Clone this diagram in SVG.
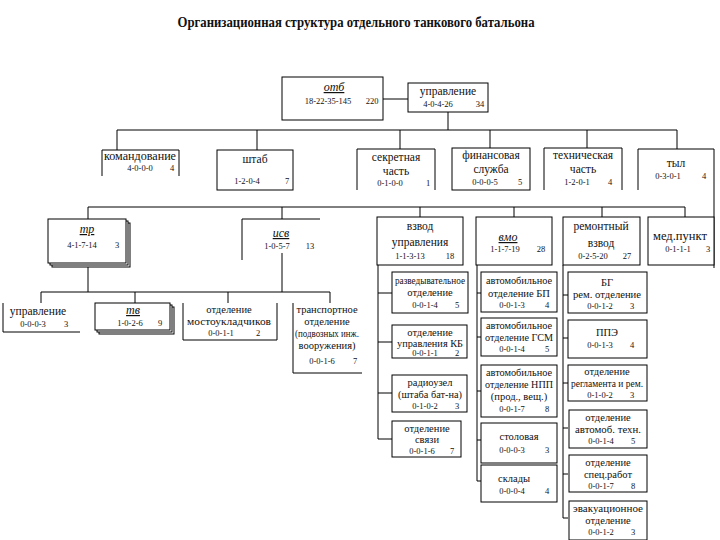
<svg xmlns="http://www.w3.org/2000/svg" width="720" height="540" viewBox="0 0 720 540">
<style>
.bx{fill:#fff;stroke:#000;stroke-width:1}
.op{fill:none;stroke:#000;stroke-width:1}
.ln{fill:none;stroke:#000;stroke-width:1}
text{font-family:"Liberation Serif","Times New Roman",serif;fill:#111}
.t{font-size:11.5px;text-anchor:middle}
.s{font-size:10.5px;text-anchor:middle}
.n{font-size:8.5px;text-anchor:middle}
.i{font-style:italic;text-decoration:underline;font-size:12px;text-anchor:middle}
.h{font-size:14px;font-weight:bold;text-anchor:middle}
</style>
<rect width="720" height="540" fill="#fff"/>
<text class="h" x="356" y="27" textLength="357" lengthAdjust="spacingAndGlyphs">Организационная структура отдельного танкового батальона</text>

<g id="connectors">
<path class="ln" d="M383 99H408M448 112V130M117 130H677M117 130V150M257 130V150M400 130V149M490 130V148M587 130V148M677 130V149"/>
<path class="ln" d="M88 207H685M88 207V219M282 207V219M420 207V217M514 207V217M602 207V217M685 207V217"/>
<path class="ln" d="M88 266V292M282 253V292M41 292H330M41 292V303M135 292V303M228 292V303M330 292V303"/>
<path class="ln" d="M378 265V439M378 293H392M378 342H392M378 393H392M378 439H392"/>
<path class="ln" d="M477 265V481M477 293H481M477 337H481M477 391H481M477 440H481M477 481H481"/>
<path class="ln" d="M563 265V518M563 295H568M563 338H568M563 383H568M563 428H568M563 474H568M563 518H568"/>
<path class="ln" d="M714 149V268"/>
</g>

<g id="otb"><rect class="bx" x="282" y="77" width="101" height="43"/>
<text class="i" x="334" y="91">отб</text><text class="n" x="328" y="104">18-22-35-145</text><text class="n" x="372" y="104">220</text></g>
<g id="upravlenie"><rect class="bx" x="408" y="83" width="80" height="29"/>
<text class="t" x="448" y="95">управление</text><text class="n" x="438" y="107">4-0-4-26</text><text class="n" x="480" y="107">34</text></g>

<g id="komandovanie"><path class="op" d="M102 176V150H179V176"/>
<text class="t" x="140" y="160" textLength="72" lengthAdjust="spacingAndGlyphs">командование</text><text class="n" x="140" y="171">4-0-0-0</text><text class="n" x="172" y="171">4</text></g>
<g id="shtab"><rect class="bx" x="217" y="150" width="76" height="40"/>
<text class="t" x="255" y="163">штаб</text><text class="n" x="247" y="184">1-2-0-4</text><text class="n" x="287" y="184">7</text></g>
<g id="sekretnaya"><path class="op" d="M357 190V149H435V190"/>
<text class="t" x="396" y="161">секретная</text><text class="t" x="396" y="175">часть</text><text class="n" x="390" y="186">0-1-0-0</text><text class="n" x="428" y="186">1</text></g>
<g id="finansovaya"><rect class="bx" x="452" y="148" width="78" height="42"/>
<text class="t" x="491" y="159">финансовая</text><text class="t" x="491" y="173">служба</text><text class="n" x="485" y="185">0-0-0-5</text><text class="n" x="520" y="185">5</text></g>
<g id="tehnicheskaya"><path class="op" d="M544 190V148H622V190"/>
<text class="t" x="583" y="159">техническая</text><text class="t" x="583" y="173">часть</text><text class="n" x="577" y="185">1-2-0-1</text><text class="n" x="610" y="185">4</text></g>
<g id="tyl"><path class="op" d="M638 190V149H714"/>
<text class="t" x="676" y="167">тыл</text><text class="n" x="668" y="179">0-3-0-1</text><text class="n" x="704" y="179">4</text></g>

<g id="tr"><rect class="bx" x="52" y="223" width="78" height="44"/><rect class="bx" x="50" y="221" width="78" height="44"/><rect class="bx" x="48" y="219" width="78" height="44"/>
<text class="i" x="87" y="233">тр</text><text class="n" x="82" y="248">4-1-7-14</text><text class="n" x="117" y="248">3</text></g>
<g id="isv"><path class="op" d="M242 260V219H320"/>
<text class="i" x="281" y="237">исв</text><text class="n" x="277" y="249">1-0-5-7</text><text class="n" x="310" y="249">13</text></g>
<g id="vzvod-upr"><rect class="bx" x="377" y="217" width="86" height="48"/>
<text class="t" x="420" y="230">взвод</text><text class="t" x="420" y="246">управления</text><text class="n" x="410" y="259">1-1-3-13</text><text class="n" x="450" y="259">18</text></g>
<g id="vmo"><rect class="bx" x="476" y="217" width="76" height="48"/>
<text class="i" x="508" y="241">вмо</text><text class="n" x="505" y="252">1-1-7-19</text><text class="n" x="541" y="252">28</text></g>
<g id="remvzvod"><rect class="bx" x="563" y="217" width="77" height="48"/>
<text class="t" x="601" y="230">ремонтный</text><text class="t" x="601" y="247">взвод</text><text class="n" x="593" y="259">0-2-5-20</text><text class="n" x="627" y="259">27</text></g>
<g id="medpunkt"><rect class="bx" x="648" y="217" width="66" height="48"/>
<text class="t" x="680" y="240" textLength="54" lengthAdjust="spacingAndGlyphs">мед.пункт</text><text class="n" x="678" y="252">0-1-1-1</text><text class="n" x="708" y="252">3</text></g>

<g id="tr-upr"><path class="op" d="M3 303V332H80"/>
<text class="t" x="38" y="315">управление</text><text class="n" x="33" y="327">0-0-0-3</text><text class="n" x="66" y="327">3</text></g>
<g id="tv"><rect class="bx" x="99" y="307" width="75" height="27"/><rect class="bx" x="97" y="305" width="75" height="27"/><rect class="bx" x="95" y="303" width="75" height="27"/>
<text class="i" x="133" y="314">тв</text><text class="n" x="130" y="326">1-0-2-6</text><text class="n" x="160" y="326">9</text></g>
<g id="most"><path class="op" d="M183 303V340H277V303"/>
<text class="s" x="229" y="313">отделение</text><text class="s" x="229" y="325" textLength="84" lengthAdjust="spacingAndGlyphs">мостоукладчиков</text><text class="n" x="221" y="336">0-0-1-1</text><text class="n" x="258" y="336">2</text></g>
<g id="transp"><path class="op" d="M293 303V373H362"/>
<text class="s" x="327" y="313">транспортное</text><text class="s" x="327" y="325">отделение</text><text class="s" x="327" y="337" textLength="64" lengthAdjust="spacingAndGlyphs">(подвозных инж.</text><text class="s" x="327" y="349">вооружения)</text><text class="n" x="322" y="364">0-0-1-6</text><text class="n" x="355" y="364">7</text></g>

<g id="razv"><rect class="bx" x="392" y="272" width="76" height="41"/>
<text class="s" x="430" y="284" textLength="70" lengthAdjust="spacingAndGlyphs">разведывательное</text><text class="s" x="430" y="296">отделение</text><text class="n" x="425" y="308">0-0-1-4</text><text class="n" x="457" y="308">5</text></g>
<g id="upr-kb"><rect class="bx" x="392" y="325" width="75" height="33"/>
<text class="s" x="430" y="336">отделение</text><text class="s" x="430" y="347" textLength="66" lengthAdjust="spacingAndGlyphs">управления КБ</text><text class="n" x="425" y="356">0-0-1-1</text><text class="n" x="457" y="356">2</text></g>
<g id="radiouzel"><rect class="bx" x="392" y="375" width="75" height="37"/>
<text class="s" x="430" y="386">радиоузел</text><text class="s" x="430" y="398" textLength="64" lengthAdjust="spacingAndGlyphs">(штаба бат-на)</text><text class="n" x="425" y="409">0-1-0-2</text><text class="n" x="457" y="409">3</text></g>
<g id="svyaz"><rect class="bx" x="392" y="421" width="69" height="36"/>
<text class="s" x="427" y="432">отделение</text><text class="s" x="427" y="443">связи</text><text class="n" x="422" y="454">0-0-1-6</text><text class="n" x="452" y="454">7</text></g>

<g id="avto-bp"><rect class="bx" x="481" y="272" width="76" height="40"/>
<text class="s" x="519" y="284" textLength="66" lengthAdjust="spacingAndGlyphs">автомобильное</text><text class="s" x="519" y="297" textLength="62" lengthAdjust="spacingAndGlyphs">отделение БП</text><text class="n" x="512" y="308">0-0-1-3</text><text class="n" x="547" y="308">4</text></g>
<g id="avto-gsm"><rect class="bx" x="481" y="318" width="76" height="38"/>
<text class="s" x="519" y="329" textLength="66" lengthAdjust="spacingAndGlyphs">автомобильное</text><text class="s" x="519" y="341" textLength="68" lengthAdjust="spacingAndGlyphs">отделение ГСМ</text><text class="n" x="512" y="352">0-0-1-4</text><text class="n" x="547" y="352">5</text></g>
<g id="avto-npp"><rect class="bx" x="481" y="365" width="76" height="52"/>
<text class="s" x="519" y="376" textLength="66" lengthAdjust="spacingAndGlyphs">автомобильное</text><text class="s" x="519" y="388" textLength="68" lengthAdjust="spacingAndGlyphs">отделение НПП</text><text class="s" x="519" y="400">(прод., вещ.)</text><text class="n" x="512" y="412">0-0-1-7</text><text class="n" x="547" y="412">8</text></g>
<g id="stolovaya"><rect class="bx" x="481" y="423" width="76" height="40"/>
<text class="s" x="519" y="440">столовая</text><text class="n" x="512" y="453">0-0-0-3</text><text class="n" x="547" y="453">3</text></g>
<g id="sklady"><rect class="bx" x="481" y="465" width="76" height="37"/>
<text class="s" x="514" y="482">склады</text><text class="n" x="512" y="494">0-0-0-4</text><text class="n" x="547" y="494">4</text></g>

<g id="bg"><rect class="bx" x="568" y="272" width="79" height="41"/>
<text class="s" x="607" y="286">БГ</text><text class="s" x="607" y="298" textLength="68" lengthAdjust="spacingAndGlyphs">рем. отделение</text><text class="n" x="600" y="309">0-0-1-2</text><text class="n" x="632" y="309">3</text></g>
<g id="ppe"><rect class="bx" x="568" y="320" width="79" height="38"/>
<text class="s" x="607" y="336">ППЭ</text><text class="n" x="600" y="348">0-0-1-3</text><text class="n" x="632" y="348">4</text></g>
<g id="reglament"><rect class="bx" x="568" y="365" width="79" height="36"/>
<text class="s" x="607" y="375">отделение</text><text class="s" x="607" y="387" textLength="72" lengthAdjust="spacingAndGlyphs">регламента и рем.</text><text class="n" x="600" y="398">0-1-0-2</text><text class="n" x="632" y="398">3</text></g>
<g id="avtomob"><rect class="bx" x="569" y="410" width="78" height="38"/>
<text class="s" x="608" y="421">отделение</text><text class="s" x="608" y="433" textLength="66" lengthAdjust="spacingAndGlyphs">автомоб. техн.</text><text class="n" x="601" y="444">0-0-1-4</text><text class="n" x="633" y="444">5</text></g>
<g id="specrabot"><rect class="bx" x="569" y="455" width="78" height="37"/>
<text class="s" x="608" y="466">отделение</text><text class="s" x="608" y="478">спец.работ</text><text class="n" x="601" y="489">0-0-1-7</text><text class="n" x="633" y="489">8</text></g>
<g id="evak"><rect class="bx" x="569" y="501" width="78" height="39"/>
<text class="s" x="608" y="512" textLength="70" lengthAdjust="spacingAndGlyphs">эвакуационное</text><text class="s" x="608" y="524">отделение</text><text class="n" x="601" y="535">0-0-1-2</text><text class="n" x="633" y="535">3</text></g>
</svg>
